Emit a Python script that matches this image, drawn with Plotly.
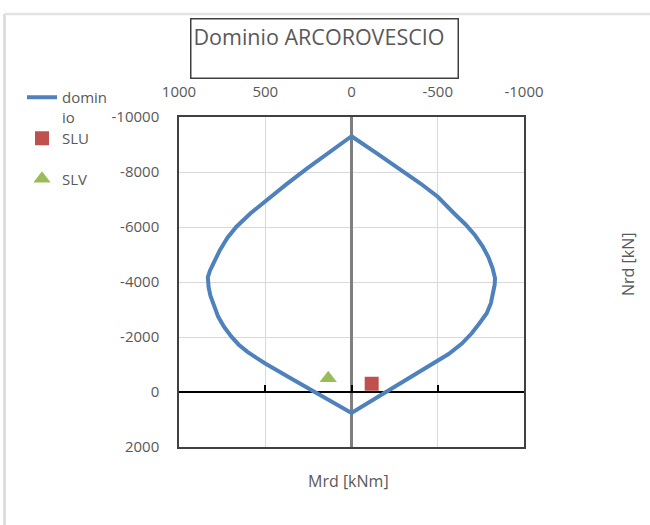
import plotly.graph_objects as go

# interaction domain (Mrd [kNm], Nrd [kN])
dom_m = [0, 130, 257, 380, 494, 585, 667, 720, 763, 797, 820, 833,
         828, 818, 800, 773, 740, 696, 655, 605, 553, 500, 350, 215, 100, 0,
         -200, -400, -563, -640, -697, -742, -784, -808, -822, -830, -832,
         -818, -794, -760, -716, -660, -594, -550, -500, -398, -291, -145, 0]
dom_n = [-9300, -8720, -8130, -7540, -6980, -6500, -6010, -5600, -5160, -4750, -4420, -4170,
         -3800, -3500, -3150, -2742, -2380, -2011, -1730, -1470, -1250, -1038, -493, 0, 410, 760,
         0, -755, -1380, -1760, -2135, -2500, -2867, -3230, -3598, -3900, -4140,
         -4500, -4900, -5300, -5700, -6100, -6500, -6800, -7100, -7590, -8073, -8690, -9300]

slu_m = [-117]
slu_n = [-300]
slv_m = [135]
slv_n = [-500]

x_ticks = [1000, 500, 0, -500, -1000]
x_ticktext = ["1000", "500", "0", "-500", "-1000"]
y_ticks = [-10000, -8000, -6000, -4000, -2000, 0, 2000]
y_ticktext = ["-10000", "-8000", "-6000", "-4000", "-2000", "0", "2000"]

FONT = "Open Sans"
GREY = "#595959"

# plot area in pixels
L, R, T, B = 179, 524, 117, 447
W, H = 650, 525
def px(x):
    return (x - L) / (R - L)
def py(y):
    return (B - y) / (B - T)

fig = go.Figure()
fig.add_trace(go.Scatter(
    x=dom_m, y=dom_n, mode="lines", name="domin<br>io", legend="legend",
    line=dict(color="#4F81BD", width=4)
))
# SLU sits on the overlay axis so that the y=0 axis line gets drawn
fig.add_trace(go.Scatter(
    x=slu_m, y=slu_n, mode="markers", name="SLU", legend="legend2", legendgroup="b",
    xaxis="x2", marker=dict(symbol="square", size=14, color="#C0504D")
))
fig.add_trace(go.Scatter(
    x=slv_m, y=slv_n, mode="markers", name="SLV", legend="legend2", legendgroup="c",
    marker=dict(symbol="triangle-up", size=15, color="#9BBB59")
))

leg_font = dict(family=FONT, size=15, color=GREY)
fig.update_layout(
    width=W, height=H,
    margin=dict(l=L, r=W - R, t=T, b=H - B),
    paper_bgcolor="white", plot_bgcolor="white",
    font=dict(family=FONT, size=15, color=GREY),
    showlegend=True,
    legend=dict(
        x=px(22), y=py(81), xanchor="left", yanchor="top", valign="top",
        font=leg_font, bgcolor="rgba(0,0,0,0)"
    ),
    legend2=dict(
        x=px(22), y=py(122), xanchor="left", yanchor="top",
        traceorder="grouped", tracegroupgap=18,
        font=leg_font, bgcolor="rgba(0,0,0,0)"
    ),
    xaxis=dict(
        range=[1000, -1000], side="top",
        tickvals=x_ticks, ticktext=x_ticktext,
        showgrid=True, gridcolor="#d9d9d9", gridwidth=1,
        showline=True, linecolor="#404040", linewidth=1.5, mirror=True,
        zeroline=True, zerolinecolor="#7f7f7f", zerolinewidth=2.5,
        ticks="", ticklabelstandoff=12,
        tickfont=dict(family=FONT, size=15, color=GREY)
    ),
    xaxis2=dict(
        matches="x", overlaying="x", anchor="free", position=1 / 6, side="bottom",
        showline=True, linecolor="#000000", linewidth=1.5, layer="below traces",
        ticks="inside", ticklen=6, tickcolor="#000000", tickwidth=1.5,
        tickvals=x_ticks, showticklabels=False, showgrid=False, zeroline=False
    ),
    yaxis=dict(
        range=[2000, -10000],
        tickvals=y_ticks, ticktext=y_ticktext,
        showgrid=True, gridcolor="#d9d9d9", gridwidth=1,
        showline=True, linecolor="#404040", linewidth=1.5, mirror=True,
        zeroline=False,
        ticks="", ticklabelstandoff=15,
        tickfont=dict(family=FONT, size=15, color=GREY)
    ),
)

# chart title in a framed box
fig.add_annotation(
    text="Dominio ARCOROVESCIO", xref="paper", yref="paper",
    x=px(190), y=py(18), xanchor="left", yanchor="top",
    width=262, height=54, align="left", valign="top",
    showarrow=False, bordercolor="#404040", borderwidth=1.5, borderpad=2,
    font=dict(family=FONT, size=21.5, color=GREY)
)
# axis titles
fig.add_annotation(
    text="Mrd [kNm]", xref="paper", yref="paper", x=px(348), y=py(481),
    xanchor="center", yanchor="middle",
    showarrow=False, font=dict(family=FONT, size=16, color=GREY)
)
fig.add_annotation(
    text="Nrd [kN]", xref="paper", yref="paper", x=px(628), y=py(265),
    xanchor="center", yanchor="middle",
    textangle=-90, showarrow=False, font=dict(family=FONT, size=16, color=GREY)
)

# light chart-area border (left and top edges)
fig.add_shape(type="line", xref="paper", yref="paper",
              x0=px(4.5), x1=px(4.5), y0=py(14), y1=py(H + 5),
              line=dict(color="#d9d9d9", width=2.5))
fig.add_shape(type="line", xref="paper", yref="paper",
              x0=px(4.5), x1=px(W + 5), y0=py(14), y1=py(14),
              line=dict(color="#e3e3e3", width=2.5))

fig.write_html("out.html", config={"displayModeBar": False},
               post_script="document.body.style.margin='0';")
